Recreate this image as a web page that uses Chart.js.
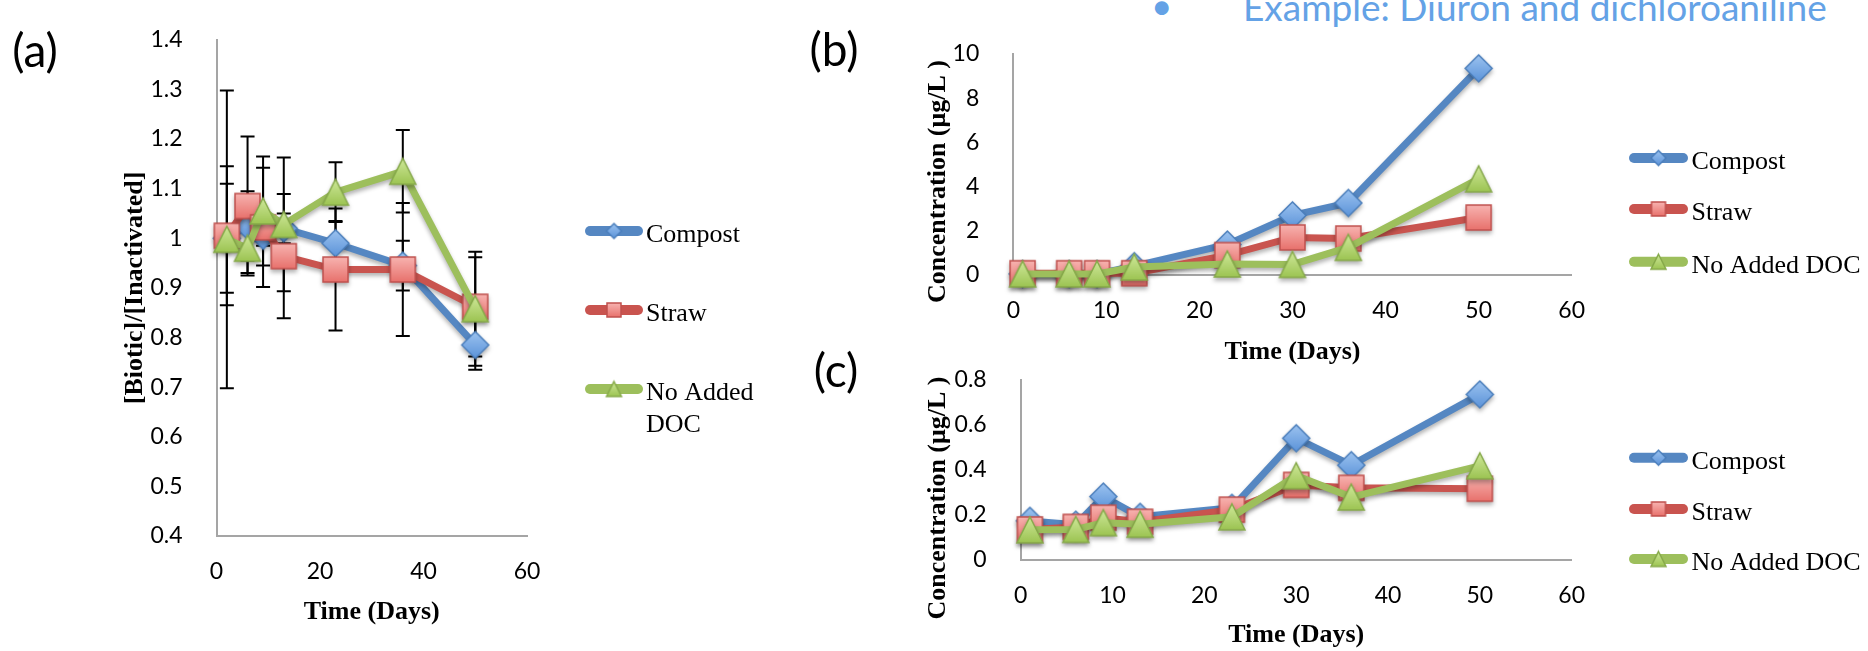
<!DOCTYPE html>
<html>
<head>
<meta charset="utf-8">
<script src="https://cdn.jsdelivr.net/npm/chart.js@4.4.1/dist/chart.umd.min.js"></script>
<style>
  html, body { margin: 0; padding: 0; background: #fff; }
  body { width: 1868px; height: 651px; position: relative; overflow: hidden; }
  canvas { position: absolute; }
  .head { position: absolute; color: #64a2e6; font-family: Lato, sans-serif; font-size: 37px; line-height: 37px; white-space: nowrap; }
</style>
</head>
<body>
<div class="head" style="left:1151px; top:-14px">•</div>
<div class="head" style="left:1243px; top:-12px">Example: Diuron and dichloroaniline</div>
<canvas id="chartA" width="780" height="651" style="left:0;top:0"></canvas>
<canvas id="chartB" width="1088" height="370" style="left:780px;top:0"></canvas>
<canvas id="chartC" width="1088" height="311" style="left:780px;top:340px"></canvas>
<script>
// series names
const seriesNames = ['Compost', 'Straw', 'No Added DOC'];

// (a) ratio biotic / inactivated
const daysA = [2, 6, 9, 13, 23, 36, 50];
const compostA = [1.0, 1.025, 1.005, 1.02, 0.99, 0.945, 0.785];
const strawA = [1.005, 1.065, 1.022, 0.964, 0.937, 0.937, 0.862];
const noDocA = [0.998, 0.98, 1.055, 1.028, 1.093, 1.135, 0.858];
const compostErrA = [0.11, 0.07, 0.02, 0.03, 0.045, 0.05, 0.05];
const strawErrA = [0.14, 0.14, 0.12, 0.125, 0.123, 0.134, 0.1];
const noDocErrA = [0.3, 0.05, 0.11, 0.135, 0.06, 0.083, 0.115];

// (b) concentration
const daysBC = [1, 6, 9, 13, 23, 30, 36, 50];
const compostB = [0.05, 0.05, 0.05, 0.4, 1.38, 2.7, 3.26, 9.35];
const strawB = [0.08, 0.08, 0.08, 0.08, 0.9, 1.7, 1.65, 2.6];
const noDocB = [0.05, 0.05, 0.05, 0.36, 0.5, 0.48, 1.25, 4.35];

// (c) concentration
const compostC = [0.172, 0.155, 0.28, 0.19, 0.23, 0.54, 0.42, 0.735];
const strawC = [0.134, 0.145, 0.186, 0.168, 0.222, 0.332, 0.319, 0.315];
const noDocC = [0.132, 0.134, 0.164, 0.157, 0.19, 0.373, 0.278, 0.417];

// ticks
const xTicksA = [0, 20, 40, 60];
const yTicksA = [0.4, 0.5, 0.6, 0.7, 0.8, 0.9, 1, 1.1, 1.2, 1.3, 1.4];
const xTicksBC = [0, 10, 20, 30, 40, 50, 60];
const yTicksB = [0, 2, 4, 6, 8, 10];
const yTicksC = [0, 0.2, 0.4, 0.6, 0.8];

const lineColors = ['#5587c2', '#c9544f', '#9dbf5c'];

function makeMarker(shape, size, top, bottom, edge) {
  const pad = 6;
  const c = document.createElement('canvas');
  c.width = c.height = size + pad * 2;
  const g = c.getContext('2d');
  const m = c.width / 2, h = size / 2;
  g.beginPath();
  if (shape === 'diamond') {
    g.moveTo(m, m - h); g.lineTo(m + h, m); g.lineTo(m, m + h); g.lineTo(m - h, m);
  } else if (shape === 'square') {
    g.rect(m - h, m - h, size, size);
  } else {
    g.moveTo(m, m - h); g.lineTo(m + h, m + h); g.lineTo(m - h, m + h);
  }
  g.closePath();
  const grad = g.createLinearGradient(0, m - h, 0, m + h);
  grad.addColorStop(0, top);
  grad.addColorStop(1, bottom);
  g.fillStyle = grad;
  g.fill();
  g.lineWidth = 1.5;
  g.strokeStyle = edge;
  g.stroke();
  return c;
}

function markerSet(k) {
  return [
    makeMarker('diamond', Math.round(27 * k), '#9cc3f0', '#5b93d9', '#4a7ebb'),
    makeMarker('square', Math.round(25 * k), '#f7b3b0', '#e8716c', '#c0504d'),
    makeMarker('triangle', Math.round(26 * k), '#cfe89a', '#9cc452', '#86a94a')
  ];
}

const TICK_FONT = { family: 'Lato', size: 23 };
const TITLE_FONT = { family: '"Liberation Serif"', size: 26, weight: 'bold', lineHeight: 1.2 };
const LEGEND_FONT = '26px "Liberation Serif"';
const PANEL_FONT = '46px Lato';

// error bars behind, soft shadow on the series
const errorBars = {
  id: 'errorBars',
  beforeDatasetsDraw(chart) {
    const { ctx, scales: { x, y } } = chart;
    ctx.save();
    ctx.strokeStyle = '#000';
    ctx.lineWidth = 2;
    chart.data.datasets.forEach(ds => {
      if (!ds.errors) return;
      ds.data.forEach((p, i) => {
        const px = x.getPixelForValue(p.x);
        const hi = y.getPixelForValue(p.y + ds.errors[i]);
        const lo = y.getPixelForValue(p.y - ds.errors[i]);
        ctx.beginPath();
        ctx.moveTo(px, hi); ctx.lineTo(px, lo);
        ctx.moveTo(px - 7, hi); ctx.lineTo(px + 7, hi);
        ctx.moveTo(px - 7, lo); ctx.lineTo(px + 7, lo);
        ctx.stroke();
      });
    });
    ctx.restore();
    ctx.save();
    ctx.shadowColor = 'rgba(0,0,0,0.3)';
    ctx.shadowBlur = 4;
    ctx.shadowOffsetY = 3;
  },
  afterDatasetsDraw(chart) {
    chart.ctx.restore();
  }
};

// panel letters, free titles and the legend
const decor = {
  id: 'decor',
  afterDraw(chart, args, opts) {
    const ctx = chart.ctx;
    (opts.texts || []).forEach(t => {
      ctx.save();
      ctx.font = t.font;
      ctx.fillStyle = '#000';
      ctx.textAlign = 'center';
      ctx.textBaseline = 'middle';
      ctx.translate(t.x, t.y);
      if (t.rot) ctx.rotate(t.rot);
      ctx.fillText(t.text, 0, 0);
      ctx.restore();
    });
    const lg = opts.legend;
    if (!lg) return;
    ctx.save();
    chart.data.datasets.forEach((ds, i) => {
      const y = lg.ys[i];
      ctx.lineCap = 'round';
      ctx.lineWidth = 10;
      ctx.strokeStyle = ds.borderColor;
      ctx.beginPath();
      ctx.moveTo(lg.x0 + 5, y);
      ctx.lineTo(lg.x1 - 5, y);
      ctx.stroke();
      const m = lg.markers[i];
      ctx.drawImage(m, (lg.x0 + lg.x1) / 2 - m.width / 2, y - m.height / 2);
      ctx.font = LEGEND_FONT;
      ctx.fillStyle = '#000';
      ctx.textAlign = 'left';
      ctx.textBaseline = 'middle';
      // wrap to the canvas width
      const maxW = chart.width - lg.tx - 2;
      const lines = [];
      let cur = '';
      ds.label.split(' ').forEach(w => {
        const test = cur ? cur + ' ' + w : w;
        if (cur && ctx.measureText(test).width > maxW) { lines.push(cur); cur = w; }
        else cur = test;
      });
      lines.push(cur);
      lines.forEach((ln, j) => ctx.fillText(ln, lg.tx, y + 4 + j * 32));
    });
    ctx.restore();
  }
};

function series(i, days, vals, markers, errs) {
  return {
    label: seriesNames[i],
    data: days.map((d, k) => ({ x: d, y: vals[k] })),
    borderColor: lineColors[i],
    backgroundColor: lineColors[i],
    borderWidth: 7,
    pointStyle: markers[i],
    pointRadius: 14,
    tension: 0,
    clip: false,
    order: 3 - i,
    errors: errs
  };
}

function axis(ticksArr, min, max, fit, extra) {
  return Object.assign({
    type: 'linear',
    min, max,
    grid: { display: false },
    border: { color: '#a5a5a5', width: 2 },
    afterBuildTicks: s => { s.ticks = ticksArr.map(v => ({ value: v })); },
    afterFit: fit
  }, extra);
}

function build(id, cfg) {
  return new Chart(document.getElementById(id), {
    type: 'line',
    data: { datasets: cfg.datasets },
    options: {
      responsive: false,
      animation: false,
      devicePixelRatio: 1,
      layout: { padding: cfg.padding },
      scales: {
        x: axis(cfg.xTicks, cfg.xTicks[0], cfg.xTicks[cfg.xTicks.length - 1],
          s => { s.height = cfg.xHeight; },
          { position: 'bottom',
            ticks: { font: TICK_FONT, color: '#000', padding: 14, maxRotation: 0, callback: v => String(v) },
            title: { display: true, text: 'Time (Days)', font: TITLE_FONT, color: '#000', padding: { top: 0, bottom: cfg.xTitlePad } } }),
        y: axis(cfg.yTicks, cfg.yTicks[0], cfg.yTicks[cfg.yTicks.length - 1],
          s => { s.width = cfg.yWidth; },
          { position: 'left',
            ticks: { font: TICK_FONT, color: '#000', padding: 26, callback: v => String(v) },
            title: cfg.yTitle })
      },
      plugins: {
        legend: { display: false },
        tooltip: { enabled: false },
        decor: { texts: cfg.texts, legend: cfg.legend }
      }
    },
    plugins: [errorBars, decor]
  });
}

function draw() {
  const mk = markerSet(1);
  const lgMk = markerSet(0.56);

  build('chartA', {
    datasets: [
      series(0, daysA, compostA, mk, compostErrA),
      series(1, daysA, strawA, mk, strawErrA),
      series(2, daysA, noDocA, mk, noDocErrA)
    ],
    padding: { left: 0, right: 253, top: 20, bottom: 0 },
    xTicks: xTicksA, yTicks: yTicksA,
    xHeight: 115, yWidth: 216.5, xTitlePad: 23.4,
    yTitle: { display: true, text: '[Biotic]/[Inactivated]', font: TITLE_FONT, color: '#000', padding: { top: 120, bottom: 0 } },
    texts: [{ text: '(a)', x: 35, y: 52, font: PANEL_FONT }],
    legend: { x0: 585, x1: 643, tx: 646, ys: [231, 310, 389], markers: lgMk }
  });

  build('chartB', {
    datasets: [
      series(0, daysBC, compostB, mk),
      series(1, daysBC, strawB, mk),
      series(2, daysBC, noDocB, mk)
    ],
    padding: { left: 0, right: 296.3, top: 54, bottom: 0 },
    xTicks: xTicksBC, yTicks: yTicksB,
    xHeight: 95, yWidth: 233.3, xTitlePad: 2.4,
    yTitle: { display: false },
    texts: [
      { text: '(b)', x: 54, y: 51, font: PANEL_FONT },
      { text: 'Concentration (μg/L )', x: 158, y: 181.5, rot: -Math.PI / 2, font: 'bold 26px "Liberation Serif"' }
    ],
    legend: { x0: 849, x1: 908, tx: 911.5, ys: [158, 209, 261.7], markers: lgMk }
  });

  build('chartC', {
    datasets: [
      series(0, daysBC, compostC, mk),
      series(1, daysBC, strawC, mk),
      series(2, daysBC, noDocC, mk)
    ],
    padding: { left: 0, right: 296.3, top: 26.7, bottom: 0 },
    xTicks: xTicksBC, yTicks: yTicksC,
    xHeight: 91.5, yWidth: 240.7, xTitlePad: 0.4,
    yTitle: { display: false },
    texts: [
      { text: '(c)', x: 56, y: 32, font: PANEL_FONT },
      { text: 'Concentration (μg/L )', x: 158, y: 158, rot: -Math.PI / 2, font: 'bold 26px "Liberation Serif"' }
    ],
    legend: { x0: 849, x1: 908, tx: 911.5, ys: [117.7, 169, 219], markers: lgMk }
  });
}

Promise.all([
  document.fonts.load('23px Lato'),
  document.fonts.load('46px Lato'),
  document.fonts.load('bold 26px "Liberation Serif"'),
  document.fonts.load('26px "Liberation Serif"')
]).then(draw, draw);
</script>
</body>
</html>
